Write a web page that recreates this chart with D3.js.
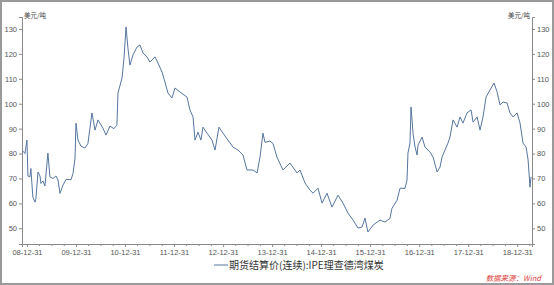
<!DOCTYPE html>
<html>
  <head>
    <meta charset="utf-8">
    <style>
      body { margin: 0; background: #fff; }
      text { font-family: "Liberation Sans", Arial, sans-serif; }
      .cjk { font-family: "Noto Sans CJK SC", sans-serif; }
    </style>
  </head>
  <body>
    <script src="https://d3js.org/d3.v7.min.js"></script>
    <script>
      // weekly settlement price
      var dates = [
        "2008-12-01","2008-12-16","2008-12-31","2009-01-07","2009-01-22","2009-01-29","2009-02-13","2009-03-01",
        "2009-03-08","2009-03-23","2009-04-07","2009-04-14","2009-04-29","2009-05-14","2009-06-05","2009-06-20",
        "2009-07-13","2009-08-04","2009-08-19","2009-09-03","2009-09-25","2009-10-18","2009-11-24","2009-12-09",
        "2009-12-24","2009-12-31","2010-01-15","2010-02-06","2010-03-08","2010-03-30","2010-04-29","2010-05-22",
        "2010-06-13","2010-07-20","2010-08-12","2010-09-10","2010-10-10","2010-11-01","2010-11-09","2010-12-09",
        "2010-12-24","2011-01-08","2011-01-22","2011-02-06","2011-03-01","2011-03-31","2011-04-22","2011-05-14",
        "2011-06-13","2011-07-05","2011-08-12","2011-09-03","2011-10-03","2011-10-25","2011-11-16","2011-12-16",
        "2012-01-08","2012-02-14","2012-03-15","2012-04-06","2012-04-28","2012-05-21","2012-06-05","2012-06-27",
        "2012-07-19","2012-08-03","2012-09-02","2012-10-09","2012-11-01","2012-11-30","2012-12-30","2013-02-05",
        "2013-03-15","2013-04-21","2013-05-28","2013-06-27","2013-08-11","2013-09-10","2013-10-02","2013-10-24",
        "2013-11-08","2013-12-15","2014-01-07","2014-02-05","2014-03-22","2014-05-13","2014-07-05","2014-07-27",
        "2014-09-02","2014-10-09","2014-11-01","2014-12-08","2015-01-07","2015-02-13","2015-03-22","2015-05-06",
        "2015-06-12","2015-07-19","2015-08-26","2015-10-02","2015-11-01","2015-11-23","2015-12-15","2016-01-22",
        "2016-03-14","2016-04-20","2016-05-27","2016-06-11","2016-07-19","2016-08-10","2016-09-16","2016-10-01",
        "2016-10-08","2016-10-23","2016-10-31","2016-11-15","2016-11-30","2016-12-15","2016-12-22","2017-01-21",
        "2017-02-12","2017-03-21","2017-04-13","2017-05-13","2017-06-04","2017-06-19","2017-07-11","2017-08-02",
        "2017-08-17","2017-09-09","2017-10-09","2017-10-31","2017-11-22","2017-12-22","2018-01-21","2018-02-05",
        "2018-03-07","2018-03-29","2018-04-20","2018-05-13","2018-06-11","2018-07-11","2018-08-03","2018-08-25",
        "2018-09-16","2018-10-16","2018-11-07","2018-11-30","2018-12-30","2019-01-21","2019-02-12","2019-03-07",
        "2019-03-22","2019-04-05","2019-04-13"
      ];
      var prices = [
        81, 80, 85.4, 71, 70.6, 74, 62.5, 60.5,
        62, 72.6, 71, 68, 69, 67, 80.2, 70.6,
        70, 71, 69.4, 64, 67.3, 69.6, 69.5, 72,
        78.2, 92.2, 85.4, 83, 82.2, 84, 96.3, 89.4,
        93.5, 90.2, 87.4, 91, 90, 91.4, 104.3, 110.3,
        118.4, 130.8, 122.4, 115.5, 119.6, 122.8, 123.6, 120.4,
        118.8, 116.7, 118.8, 116.3, 112.7, 108.7, 104.3, 102.3,
        106.3, 104.7, 103.5, 102.7, 97.5, 94.7, 85.4, 88.6,
        85.4, 90.6, 88.2, 85.4, 81.4, 90.6, 88.2, 85.4,
        82.6, 81.4, 79.4, 73.4, 73.4, 72.2, 78.6, 88.2,
        84.5, 85, 84, 78.6, 73.4, 76.2, 72.2, 73.4,
        68.2, 65.3, 64.1, 66.1, 60.1, 64.1, 58.5, 63.3,
        60.1, 56.1, 53.3, 50.1, 50.5, 54.1, 48.5, 51.3,
        53.3, 52.5, 54, 58, 61.3, 66.1, 66, 69.4,
        80.2, 84.2, 98.7, 88, 82.6, 79.4, 83.4, 86.6,
        82.6, 80.6, 78.6, 72.6, 74.6, 78.6, 81.4, 84.2,
        86.6, 93.5, 90.6, 94.7, 92.2, 96.3, 97.5, 92.6,
        94.7, 89.4, 94.7, 102.7, 105.5, 108.3, 104.7, 99.5,
        100.7, 100.3, 96.3, 94.7, 96.3, 92.2, 84.2, 82.6,
        77.4, 66.5, 70.6
      ];
      var xTickLabels = ["08-12-31","09-12-31","10-12-31","11-12-31","12-12-31","13-12-31",
                         "14-12-31","15-12-31","16-12-31","17-12-31","18-12-31"];
      var yTicks = [50, 60, 70, 80, 90, 100, 110, 120, 130];
      var seriesName = "期货结算价(连续):IPE理查德湾煤炭";
      var unitLabel = "美元/吨";
      var sourceLabel = "数据来源：Wind";

      var W = 554, H = 285;
      var plotL = 22, plotR = 532, plotT = 17, plotB = 244;
      var parse = d3.timeParse("%Y-%m-%d");
      var tickParse = d3.timeParse("%y-%m-%d");

      var data = dates.map(function(d, i){ return {date: parse(d), value: prices[i]}; });

      var svg = d3.select("body").append("svg")
        .attr("width", W).attr("height", H);

      svg.append("rect")
        .attr("x", 1).attr("y", 1)
        .attr("width", W - 2).attr("height", H - 2)
        .attr("fill", "#fff")
        .attr("stroke", "#9a9a9a").attr("stroke-width", 2);

      var x = d3.scaleTime()
        .domain([parse("2008-11-24"), parse("2019-04-20")])
        .range([plotL, plotR]);
      var y = d3.scaleLinear()
        .domain([43.7, 134.8])
        .range([plotB, plotT]);

      var tickDates = xTickLabels.map(function(s){ return tickParse(s); });
      var minorDates = [];
      tickDates.forEach(function(t){
        [3, 6, 9].forEach(function(m){
          var d = d3.timeMonth.offset(t, m);
          if (x(d) < plotR) minorDates.push(d);
        });
      });

      function styleAxis(g){
        g.select(".domain").attr("stroke", "#8a8a8a");
        g.selectAll(".tick line").attr("stroke", "#8a8a8a");
        g.selectAll(".tick text").attr("fill", "#555")
          .style("font-size", "7.5px");
      }

      // x axis, quarterly minor ticks first
      svg.append("g")
        .attr("transform", "translate(0," + plotB + ")")
        .call(d3.axisBottom(x).tickValues(minorDates).tickSize(2).tickFormat(""))
        .call(styleAxis);
      svg.append("g")
        .attr("transform", "translate(0," + plotB + ")")
        .call(d3.axisBottom(x).tickValues(tickDates).tickSize(3).tickPadding(3)
          .tickFormat(function(d, i){ return xTickLabels[i]; }))
        .call(styleAxis);

      svg.append("g")
        .attr("transform", "translate(" + plotL + ",0)")
        .call(d3.axisLeft(y).tickValues(yTicks).tickSize(3).tickPadding(2))
        .call(styleAxis);
      svg.append("g")
        .attr("transform", "translate(" + plotR + ",0)")
        .call(d3.axisRight(y).tickValues(yTicks).tickSize(3).tickPadding(2))
        .call(styleAxis);

      var line = d3.line()
        .x(function(d){ return x(d.date); })
        .y(function(d){ return y(d.value); });

      svg.append("path")
        .datum(data)
        .attr("d", line)
        .attr("fill", "none")
        .attr("stroke", "#5676a0")
        .attr("stroke-width", 1);

      // units
      svg.append("text").attr("class", "cjk")
        .attr("x", plotL + 2).attr("y", 18)
        .style("font-size", "6.5px").attr("fill", "#444")
        .text(unitLabel);
      svg.append("text").attr("class", "cjk")
        .attr("x", plotR - 2).attr("y", 18)
        .attr("text-anchor", "end")
        .style("font-size", "6.5px").attr("fill", "#444")
        .text(unitLabel);

      // legend
      svg.append("line")
        .attr("x1", 214).attr("x2", 228)
        .attr("y1", 265).attr("y2", 265)
        .attr("stroke", "#5676a0").attr("stroke-width", 1);
      svg.append("text").attr("class", "cjk")
        .attr("x", 229).attr("y", 268.5)
        .style("font-size", "10px").attr("fill", "#333")
        .text(seriesName);

      // source
      svg.append("text").attr("class", "cjk")
        .attr("x", 541).attr("y", 281)
        .attr("text-anchor", "end")
        .style("font-size", "7.5px").style("font-style", "italic")
        .attr("fill", "#e0413b")
        .text(sourceLabel);
    </script>
  </body>
</html>
